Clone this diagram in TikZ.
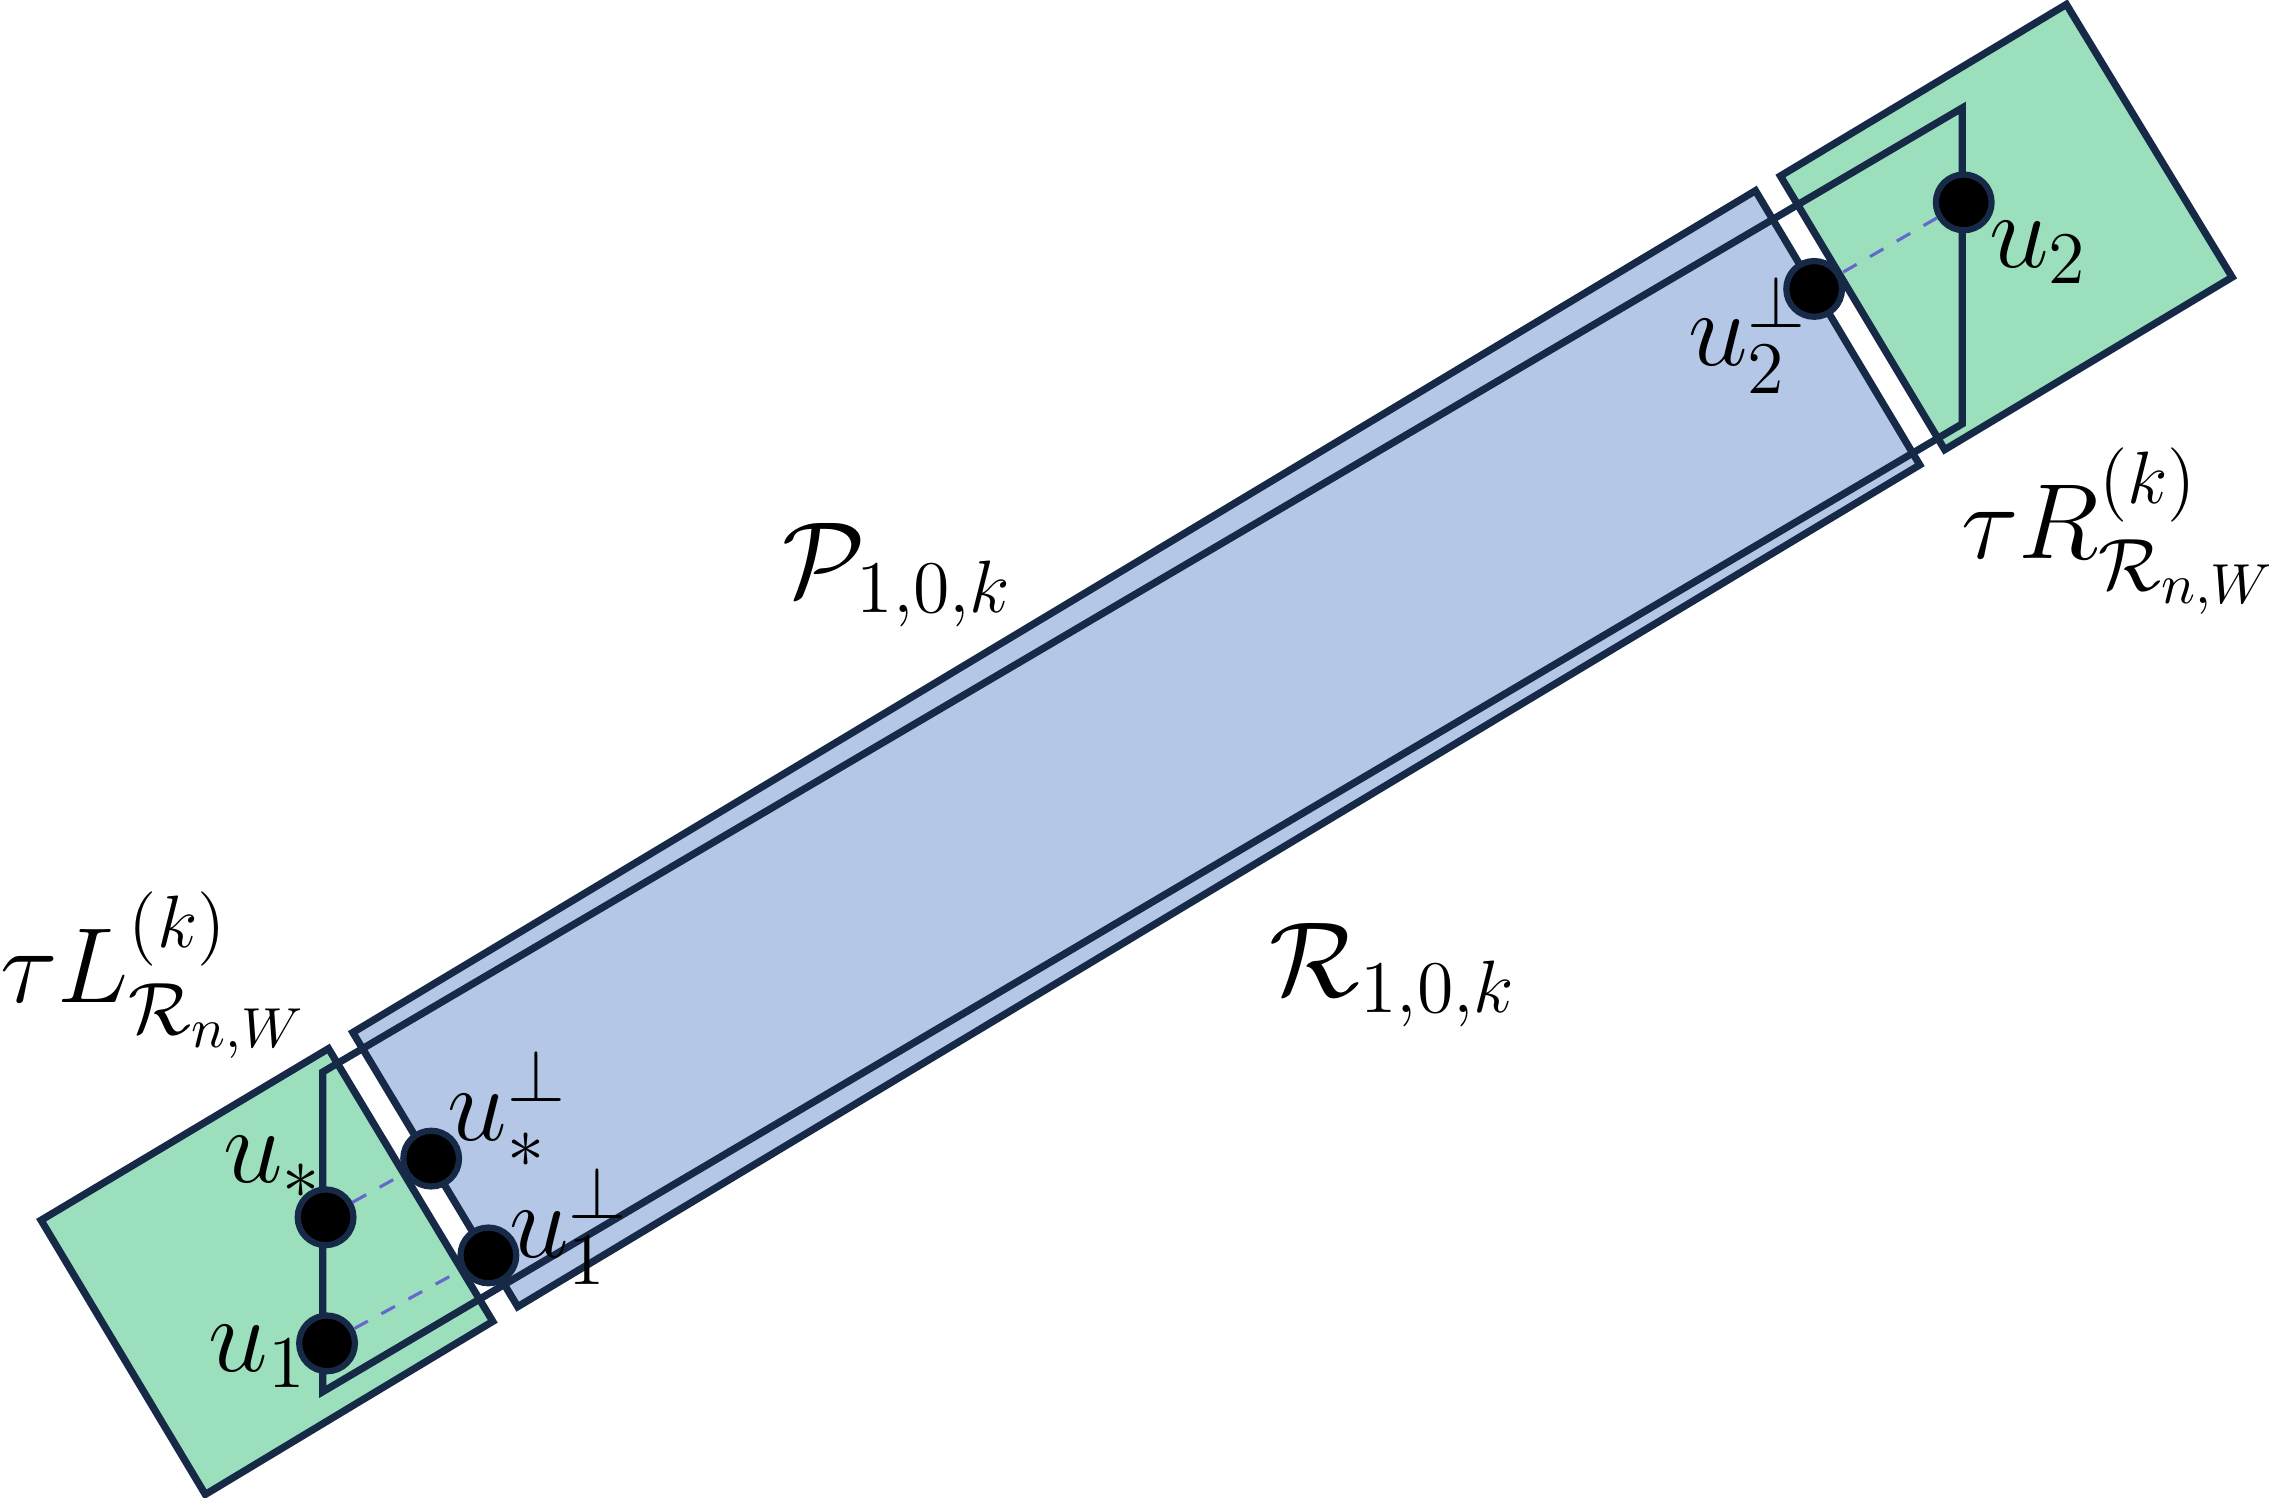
\documentclass[tikz,border=0pt]{standalone}
\usepackage{amsmath,amssymb}
\usepackage{xcolor}
\usetikzlibrary{positioning}
\definecolor{boxblue}{RGB}{180,199,231}
\definecolor{boxgreen}{RGB}{155,223,189}
\definecolor{edge}{RGB}{22,42,72}
\tikzset{pt/.style={circle,fill=black,draw=edge,line width=1.2pt,inner sep=0pt,minimum size=3.8mm},
lab/.style={font=\fontsize{22}{26}\selectfont,inner sep=1pt},
proj/.style={dashed,draw=blue!50!gray!80,line width=0.6pt}}

\begin{document}
\begin{tikzpicture}[x=0.1mm,y=-0.1mm,line width=1.4pt]
  \useasboundingbox (0,0) rectangle (1556,1021);

  % strip P and the two end squares
  \draw[fill=boxblue,draw=edge] (240.6,704) -- (1197,130) -- (1309,317) -- (353,891) -- cycle;
  \draw[fill=boxgreen,draw=edge] (28,832) -- (224,715) -- (336,901) -- (140,1019) -- cycle;
  \draw[fill=boxgreen,draw=edge] (1214,120) -- (1409,3) -- (1522,189) -- (1326,306.6) -- cycle;
  % strip R
  \draw[edge] (220,731) -- (1338,73.6) -- (1338,289) -- (220,949) -- cycle;

  \node[pt] (u1) at (223,916) {};
  \node[pt] (us) at (222,830) {};
  \node[pt] (u1p) at (333,856) {};
  \node[pt] (usp) at (294,790) {};
  \node[pt] (u2) at (1339,138) {};
  \node[pt] (u2p) at (1237,197) {};
  \draw[proj] (u1) -- (u1p);
  \draw[proj] (us) -- (usp);
  \draw[proj] (u2) -- (u2p);

  \node[lab] (l1) at (176,925) {$u_1$};
  \node[lab] (ls) at (186,796) {$u_*$};
  \node[lab] (l1p) at (388,836) {$u_1^{\perp}$};
  \node[lab] (lsp) at (346,756) {$u_*^{\perp}$};
  \node[lab] (l2p) at (1192,228) {$u_2^{\perp}$};
  \node[lab] (l2) at (1390,172) {$u_2$};
  \node[lab] (lR) at (1445,362) {$\tau R^{(k)}_{\mathcal{R}_{n,W}}$};
  \node[lab] (lL) at (105,665) {$\tau L^{(k)}_{\mathcal{R}_{n,W}}$};
  \node[lab] (lP) at (612,392) {$\mathcal{P}_{1,0,k}$};
  \node[lab] (lRR) at (950,665) {$\mathcal{R}_{1,0,k}$};
\end{tikzpicture}
\end{document}
